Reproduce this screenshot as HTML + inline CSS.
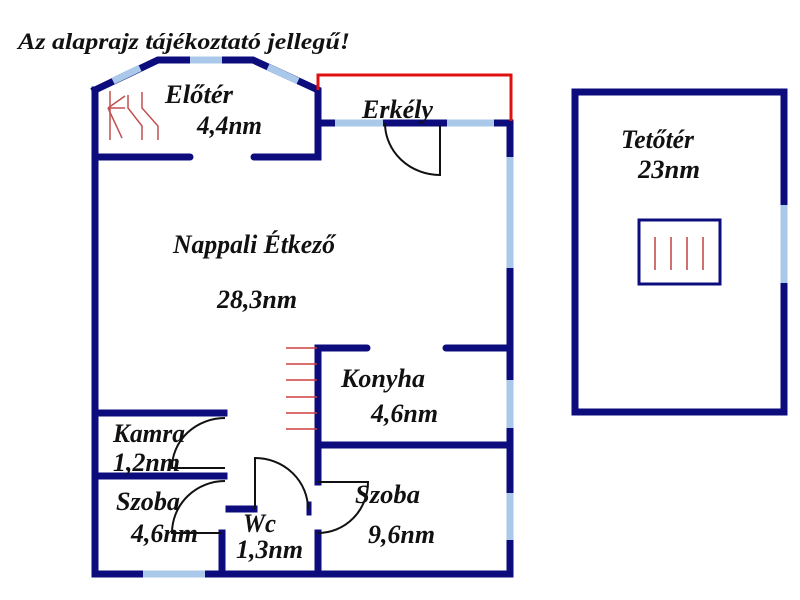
<!DOCTYPE html>
<html><head><meta charset="utf-8"><style>
html,body{margin:0;padding:0;background:#fff;}
svg{display:block}
text{font-family:"Liberation Serif",serif;font-weight:bold;font-style:italic;fill:#111;}
</style></head><body>
<svg width="800" height="600" viewBox="0 0 800 600" xmlns="http://www.w3.org/2000/svg">
<rect width="800" height="600" fill="#fff"/>
<text x="18" y="49" font-size="23" textLength="332" lengthAdjust="spacingAndGlyphs">Az alaprajz tájékoztató jellegű!</text>
<g stroke="#0c0c7c" stroke-width="7" fill="none" stroke-linecap="square">
<line x1="95" y1="90" x2="95" y2="574"/>
<line x1="95" y1="574" x2="510" y2="574"/>
<line x1="510" y1="123" x2="510" y2="574"/>
<polyline points="95,90 158,60 253,60 318,90 318,157"/>
<line x1="95" y1="157" x2="190" y2="157" stroke-linecap="round"/>
<line x1="254" y1="157" x2="318" y2="157" stroke-linecap="round"/>
<line x1="318" y1="123" x2="510" y2="123"/>
<line x1="318" y1="348" x2="318" y2="482"/>
<line x1="318" y1="533" x2="318" y2="574"/>
<line x1="318" y1="348" x2="367" y2="348" stroke-linecap="round"/>
<line x1="446" y1="348" x2="510" y2="348" stroke-linecap="round"/>
<line x1="318" y1="445" x2="510" y2="445"/>
<line x1="95" y1="413" x2="224" y2="413"/>
<line x1="95" y1="476" x2="224" y2="476"/>
<line x1="222" y1="533" x2="222" y2="574"/>
<line x1="229" y1="509" x2="254" y2="509"/>
<line x1="309" y1="504" x2="309" y2="513" stroke-width="5"/>
<rect x="575" y="92" width="209" height="320"/>
</g>
<g stroke="#a9c8ea" stroke-width="7" fill="none">
<line x1="113" y1="81" x2="140" y2="68"/>
<line x1="190" y1="60" x2="222" y2="60"/>
<line x1="268" y1="67" x2="298" y2="81"/>
<line x1="335" y1="123" x2="383" y2="123"/>
<line x1="447" y1="123" x2="494" y2="123"/>
<line x1="510" y1="157" x2="510" y2="268"/>
<line x1="510" y1="380" x2="510" y2="428"/>
<line x1="510" y1="493" x2="510" y2="540"/>
<line x1="143" y1="574" x2="205" y2="574"/>
<line x1="784" y1="205" x2="784" y2="283"/>
</g>
<polyline points="318,90 318,75 511,75 511,121" stroke="#e01010" stroke-width="3" fill="none"/>
<g stroke="#111" stroke-width="2" fill="none">
<path d="M385,123 A55,52 0 0 0 440,175 L440,125"/>
<path d="M225,418 A53,50 0 0 0 172,468 L225,468"/>
<path d="M225,481 A53,52 0 0 0 172,533 L222,533"/>
<path d="M255,509 L255,458 A53,51 0 0 1 308,509"/>
<path d="M318,482 L368,482 A50,51 0 0 1 318,533"/>
</g>
<g stroke="#d04040" stroke-width="1.5">
<line x1="286" y1="348" x2="317" y2="348"/><line x1="286" y1="364" x2="317" y2="364"/>
<line x1="286" y1="380" x2="317" y2="380"/><line x1="286" y1="397" x2="317" y2="397"/>
<line x1="286" y1="413" x2="317" y2="413"/><line x1="286" y1="429" x2="317" y2="429"/>
</g>
<g stroke="#c05050" stroke-width="1.5" fill="none">
<polyline points="128,95 128,108 142,126 142,140"/>
<polyline points="142,92 142,108 158,126 158,140"/>
<line x1="110" y1="91" x2="110" y2="140"/>
<line x1="108" y1="108" x2="125" y2="108"/>
<line x1="108" y1="108" x2="125" y2="96"/>
<line x1="108" y1="108" x2="122" y2="138"/>
</g>
<rect x="639" y="220" width="81" height="64" stroke="#0c0c7c" stroke-width="3" fill="none"/>
<g stroke="#c04040" stroke-width="1.5">
<line x1="655" y1="237" x2="655" y2="270"/><line x1="671" y1="237" x2="671" y2="270"/>
<line x1="687" y1="237" x2="687" y2="270"/><line x1="703" y1="237" x2="703" y2="270"/>
</g>
<g font-size="26">
<text x="165" y="103" textLength="68" lengthAdjust="spacingAndGlyphs">Előtér</text>
<text x="197" y="134" textLength="65" lengthAdjust="spacingAndGlyphs">4,4nm</text>
<text x="362" y="118" textLength="71" lengthAdjust="spacingAndGlyphs">Erkély</text>
<text x="173" y="253" textLength="162" lengthAdjust="spacingAndGlyphs">Nappali Étkező</text>
<text x="217" y="308" textLength="80" lengthAdjust="spacingAndGlyphs">28,3nm</text>
<text x="341" y="387" textLength="84" lengthAdjust="spacingAndGlyphs">Konyha</text>
<text x="371" y="422" textLength="67" lengthAdjust="spacingAndGlyphs">4,6nm</text>
<text x="113" y="442" textLength="72" lengthAdjust="spacingAndGlyphs">Kamra</text>
<text x="113" y="471" textLength="67" lengthAdjust="spacingAndGlyphs">1,2nm</text>
<text x="116" y="510" textLength="64" lengthAdjust="spacingAndGlyphs">Szoba</text>
<text x="131" y="542" textLength="67" lengthAdjust="spacingAndGlyphs">4,6nm</text>
<text x="243" y="532" textLength="33" lengthAdjust="spacingAndGlyphs">Wc</text>
<text x="236" y="558" textLength="67" lengthAdjust="spacingAndGlyphs">1,3nm</text>
<text x="355" y="503" textLength="65" lengthAdjust="spacingAndGlyphs">Szoba</text>
<text x="368" y="543" textLength="67" lengthAdjust="spacingAndGlyphs">9,6nm</text>
<text x="621" y="148" textLength="73" lengthAdjust="spacingAndGlyphs">Tetőtér</text>
<text x="638" y="178" textLength="62" lengthAdjust="spacingAndGlyphs">23nm</text>
</g>
</svg>
</body></html>
